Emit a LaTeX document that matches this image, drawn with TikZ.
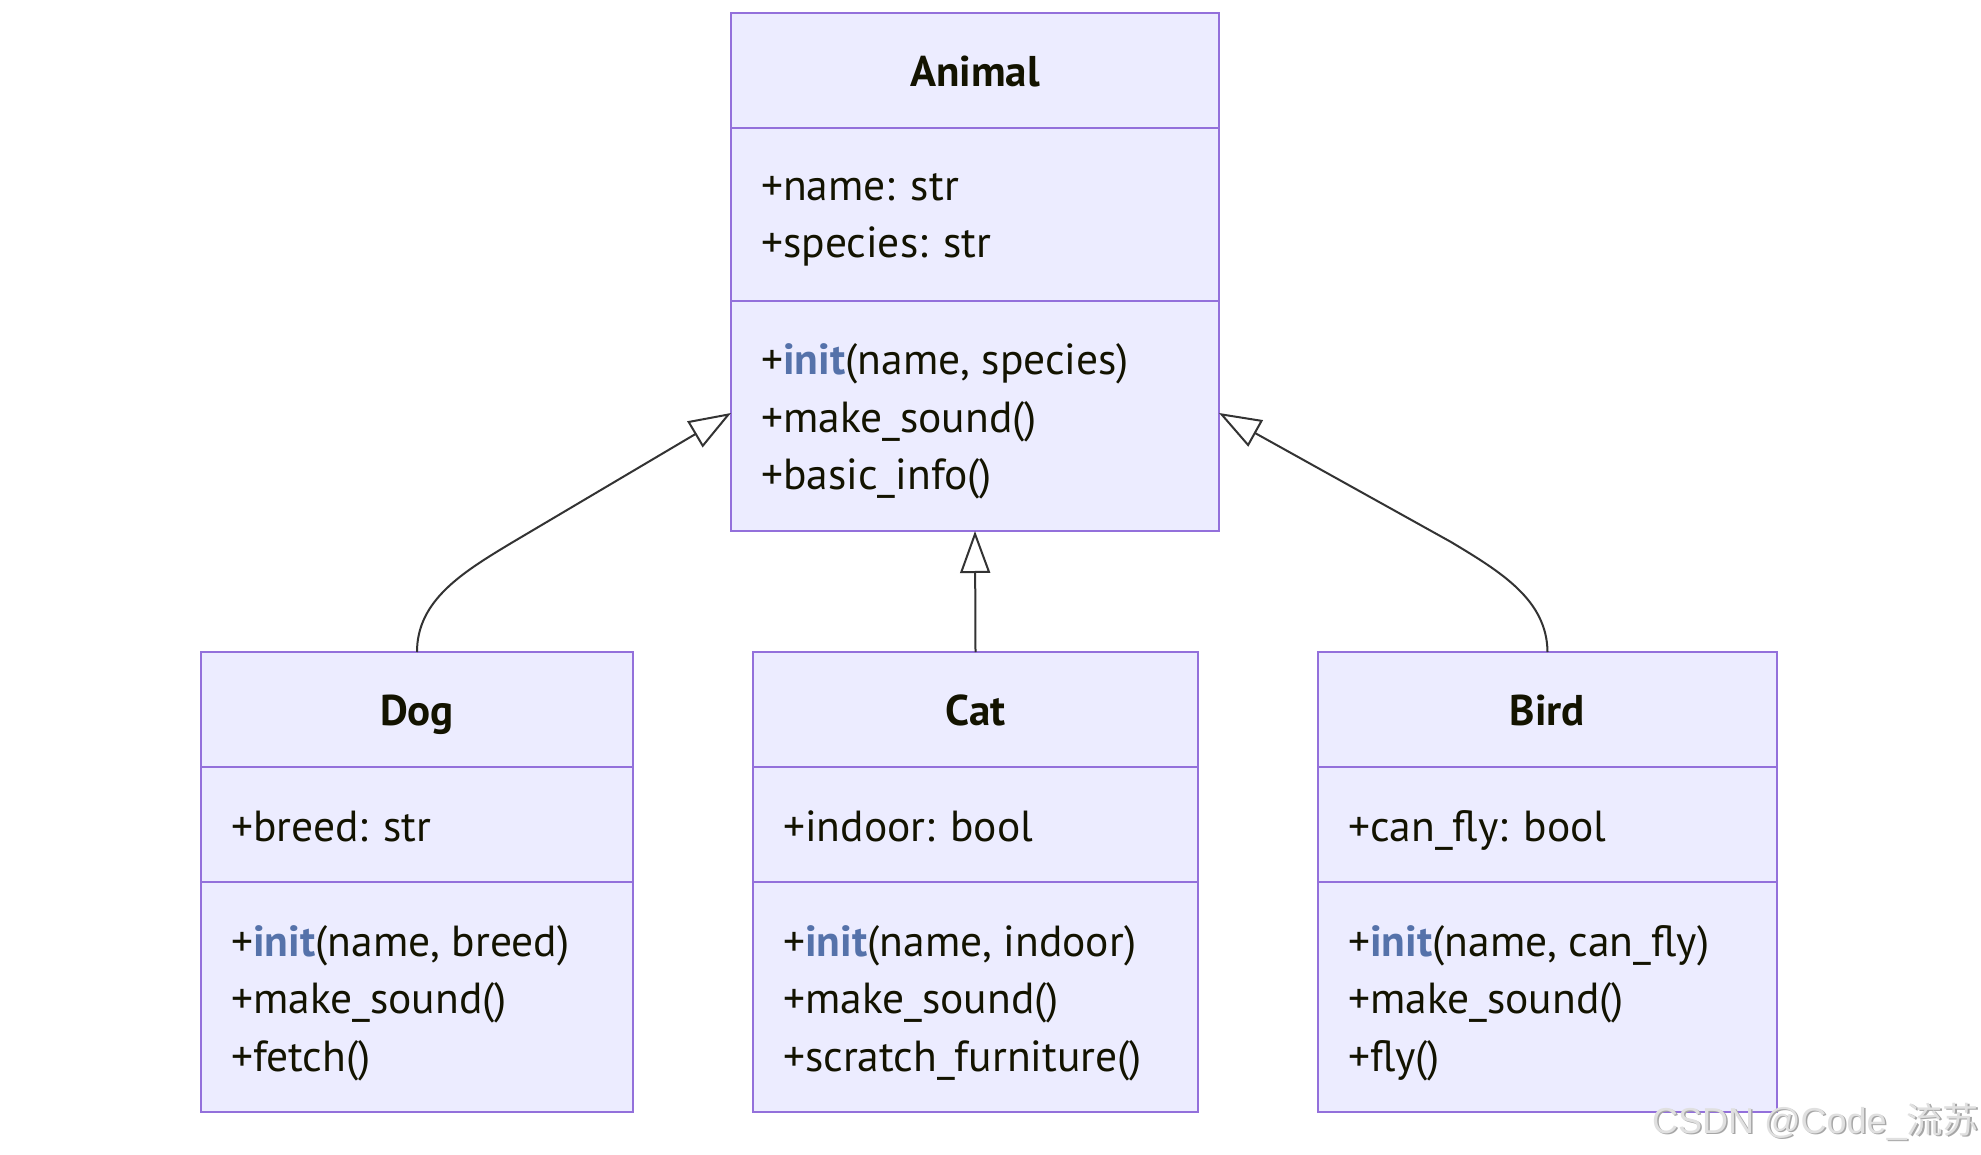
\documentclass[tikz,border=0pt]{standalone}
\usepackage{fontspec}
\setmainfont{PT Sans}
\newfontfamily\wmfont{Liberation Sans}
\newfontfamily\wmcjk{Noto Sans CJK SC}
\usetikzlibrary{arrows.meta}
\definecolor{boxfill}{HTML}{ECECFF}
\definecolor{boxline}{HTML}{9370DB}
\definecolor{edgecol}{HTML}{333333}
\definecolor{txtcol}{HTML}{131300}
\definecolor{initcol}{RGB}{85,114,170}
\newcommand{\initw}{\textcolor{initcol}{\textbf{init}}}
\begin{document}
\begin{tikzpicture}[x=1pt,y=-1pt,
  classbox/.style={draw=boxline, fill=boxfill, line width=2pt, inner sep=0pt, outer sep=0pt, rectangle},
  divider/.style={draw=boxline, line width=2pt},
  titletxt/.style={anchor=base, inner sep=0pt, text=txtcol, font=\fontsize{43}{50}\selectfont\bfseries},
  membertxt/.style={anchor=base west, inner sep=0pt, text=txtcol, font=\fontsize{43.5}{50}\selectfont},
  inherit/.style={draw=edgecol, line width=2pt, -{Triangle[length=42pt,width=30pt,fill=white]}},
]
\useasboundingbox (0,0) rectangle (1981,1155);
\fill[white] (0,0) rectangle (1981,1155);

% Animal
\node[classbox, minimum width=488pt, minimum height=518pt] (animal) at (975,272) {};
\draw[divider] (731,128) -- (1219,128);
\draw[divider] (731,301) -- (1219,301);
\node[titletxt] (animalT) at (975,87) {Animal};
\node[membertxt] (animalA1) at (761,201) {+name: str};
\node[membertxt] (animalA2) at (761,258) {+species: str};
\node[membertxt] (animalM1) at (761,375) {+\initw(name, species)};
\node[membertxt] (animalM2) at (761,432) {+make\_sound()};
\node[membertxt] (animalM3) at (761,489) {+basic\_info()};

% Dog
\node[classbox, minimum width=432pt, minimum height=460pt] (dog) at (417,882) {};
\draw[divider] (201,767) -- (633,767);
\draw[divider] (201,882) -- (633,882);
\node[titletxt] (dogT) at (417,725) {Dog};
\node[membertxt] (dogA1) at (231,841) {+breed: str};
\node[membertxt] (dogM1) at (231,956) {+\initw(name, breed)};
\node[membertxt] (dogM2) at (231,1013) {+make\_sound()};
\node[membertxt] (dogM3) at (231,1071) {+fetch()};

% Cat
\node[classbox, minimum width=445pt, minimum height=460pt] (cat) at (975.5,882) {};
\draw[divider] (753,767) -- (1198,767);
\draw[divider] (753,882) -- (1198,882);
\node[titletxt] (catT) at (975.5,725) {Cat};
\node[membertxt] (catA1) at (783,841) {+indoor: bool};
\node[membertxt] (catM1) at (783,956) {+\initw(name, indoor)};
\node[membertxt] (catM2) at (783,1013) {+make\_sound()};
\node[membertxt] (catM3) at (783,1071) {+scratch\_furniture()};

% Bird
\node[classbox, minimum width=459pt, minimum height=460pt] (bird) at (1547.5,882) {};
\draw[divider] (1318,767) -- (1777,767);
\draw[divider] (1318,882) -- (1777,882);
\node[titletxt] (birdT) at (1547.5,725) {Bird};
\node[membertxt] (birdA1) at (1348,841) {+can\_fly: bool};
\node[membertxt] (birdM1) at (1348,956) {+\initw(name, can\_fly)};
\node[membertxt] (birdM2) at (1348,1013) {+make\_sound()};
\node[membertxt] (birdM3) at (1348,1071) {+fly()};

% connectors
\coordinate (dogtip) at ([yshift=118pt]animal.south west);
\coordinate (birdtip) at ([yshift=118pt]animal.south east);
\draw[inherit] (dog.north) .. controls (417,600) and (463,572) .. (513,542) -- (dogtip);
\draw[inherit] (cat.north) -- (animal.south);
\draw[inherit] (bird.north) .. controls (1547,600) and (1501,572) .. (1451,542) -- (birdtip);

% watermark
\node[anchor=base west, inner sep=0pt, text=gray!70, font=\fontsize{36}{40}\selectfont] (wmshadow) at (1653.5,1134.5) {\wmfont CSDN @Code\_\wmcjk 流苏};
\node[anchor=base west, inner sep=0pt, text=black!12, font=\fontsize{36}{40}\selectfont] (wm) at (1652,1133) {\wmfont CSDN @Code\_\wmcjk 流苏};
\end{tikzpicture}
\end{document}
